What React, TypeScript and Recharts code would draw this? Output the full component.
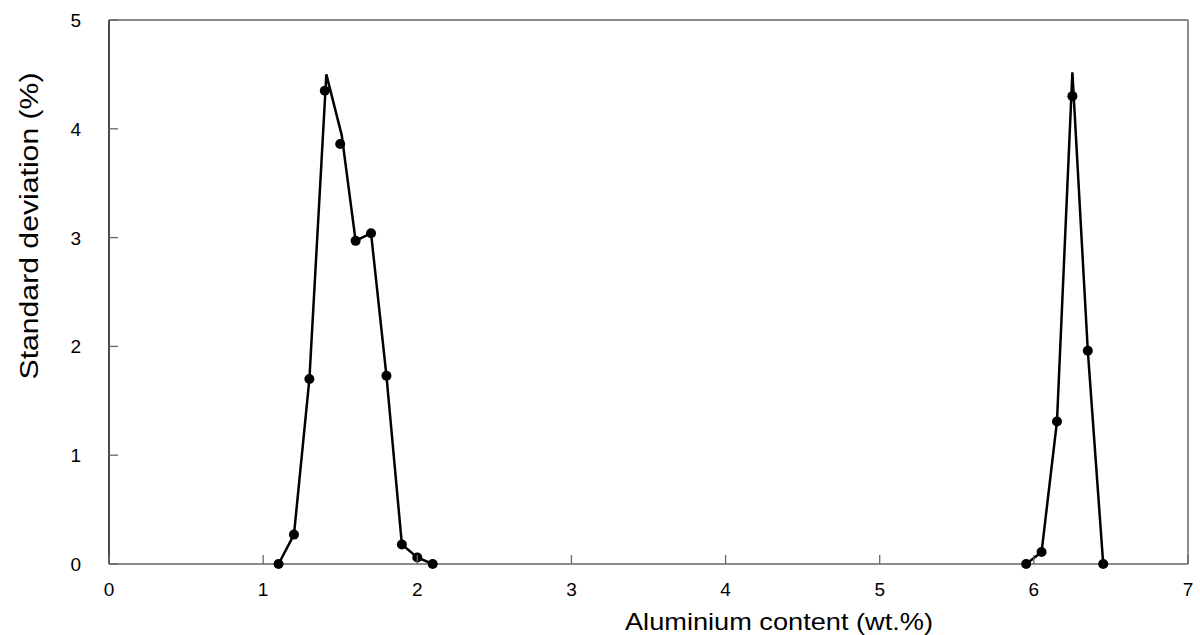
import React from 'react';
import { ComposedChart, Line, Scatter, XAxis, YAxis } from 'recharts';

// low-Al peak
const lowX = [1.1, 1.2, 1.3, 1.4, 1.5, 1.6, 1.7, 1.8, 1.9, 2.0, 2.1];
const lowLine = [0, 0.27, 1.7, 4.5, 3.94, 2.97, 3.04, 1.73, 0.18, 0.06, 0];
const lowPoints = [0, 0.27, 1.7, 4.35, 3.86, 2.97, 3.04, 1.73, 0.18, 0.06, 0];
const lowLineX = [1.1, 1.2, 1.3, 1.41, 1.51, 1.6, 1.7, 1.8, 1.9, 2.0, 2.1];

// high-Al peak
const highX = [5.95, 6.05, 6.15, 6.25, 6.35, 6.45];
const highLine = [0, 0.11, 1.31, 4.52, 1.96, 0];
const highPoints = [0, 0.11, 1.31, 4.3, 1.96, 0];

const xTicks = [0, 1, 2, 3, 4, 5, 6, 7];
const yTicks = [0, 1, 2, 3, 4, 5];

const FONT = '"Liberation Sans", Arial, sans-serif';
const LEFT = 109;
const RIGHT = 1188;
const TOP = 20;
const BOTTOM = 564;
const TICK_LEN = 9;
const FRAME = '#666';

const toPts = (xs: number[], ys: number[]) => xs.map((x, i) => ({ x, y: ys[i] }));

const lowLineData = toPts(lowLineX, lowLine);
const lowPointData = toPts(lowX, lowPoints);
const highLineData = toPts(highX, highLine);
const highPointData = toPts(highX, highPoints);

const BottomTick = (props: any) => {
  const { x, payload } = props;
  return (
    <g>
      <line x1={x} x2={x} y1={BOTTOM} y2={BOTTOM - TICK_LEN} stroke={FRAME} strokeWidth={1.3} />
      <text x={x} y={596} textAnchor="middle" fontSize={19} fontFamily={FONT} fill="#000">
        {payload.value}
      </text>
    </g>
  );
};

const TopTick = (props: any) => (
  <line x1={props.x} x2={props.x} y1={TOP} y2={TOP + TICK_LEN} stroke={FRAME} strokeWidth={1.3} />
);

const LeftTick = (props: any) => {
  const { y, payload } = props;
  return (
    <g>
      <line x1={LEFT} x2={LEFT + TICK_LEN} y1={y} y2={y} stroke={FRAME} strokeWidth={1.3} />
      <text x={81} y={y + 7} textAnchor="end" fontSize={19} fontFamily={FONT} fill="#000">
        {payload.value}
      </text>
    </g>
  );
};

const RightTick = (props: any) => (
  <line x1={RIGHT} x2={RIGHT - TICK_LEN} y1={props.y} y2={props.y} stroke={FRAME} strokeWidth={1.3} />
);

const XTitle = () => (
  <text
    x={779}
    y={630}
    textAnchor="middle"
    fontSize={24}
    fontFamily={FONT}
    fill="#000"
    textLength={308}
    lengthAdjust="spacingAndGlyphs"
  >
    Aluminium content (wt.%)
  </text>
);

const YTitle = () => (
  <text
    x={38}
    y={226}
    transform="rotate(-90, 38, 226)"
    textAnchor="middle"
    fontSize={25}
    fontFamily={FONT}
    fill="#000"
    textLength={307}
    lengthAdjust="spacingAndGlyphs"
  >
    Standard deviation (%)
  </text>
);

const dot = (props: any) => <circle cx={props.cx} cy={props.cy} r={5} fill="#000" />;

export default function App() {
  return (
    <div style={{ position: 'absolute', left: 0, top: 0, background: '#fff' }}>
      <ComposedChart width={1200} height={635} margin={{ top: 0, right: 0, bottom: 0, left: 0 }}>
        <XAxis
          xAxisId="b"
          dataKey="x"
          type="number"
          domain={[0, 7]}
          ticks={xTicks}
          height={71}
          axisLine={{ stroke: FRAME, strokeWidth: 1.5 }}
          tickLine={false}
          tick={<BottomTick />}
          label={<XTitle />}
        />
        <XAxis
          xAxisId="t"
          dataKey="x"
          orientation="top"
          type="number"
          domain={[0, 7]}
          ticks={xTicks}
          height={20}
          axisLine={{ stroke: FRAME, strokeWidth: 1.5 }}
          tickLine={false}
          tick={<TopTick />}
        />
        <YAxis
          yAxisId="l"
          dataKey="y"
          type="number"
          domain={[0, 5]}
          ticks={yTicks}
          width={109}
          axisLine={{ stroke: '#111', strokeWidth: 1.5 }}
          tickLine={false}
          tick={<LeftTick />}
          label={<YTitle />}
        />
        <YAxis
          yAxisId="r"
          dataKey="y"
          orientation="right"
          type="number"
          domain={[0, 5]}
          ticks={yTicks}
          width={12}
          axisLine={{ stroke: FRAME, strokeWidth: 1.5 }}
          tickLine={false}
          tick={<RightTick />}
        />
        <Line
          xAxisId="b"
          yAxisId="l"
          data={lowLineData}
          dataKey="y"
          stroke="#000"
          strokeWidth={2.5}
          dot={false}
          activeDot={false}
          isAnimationActive={false}
        />
        <Line
          xAxisId="b"
          yAxisId="l"
          data={highLineData}
          dataKey="y"
          stroke="#000"
          strokeWidth={2.5}
          dot={false}
          activeDot={false}
          isAnimationActive={false}
        />
        <Scatter xAxisId="b" yAxisId="l" data={lowPointData} dataKey="y" shape={dot} isAnimationActive={false} />
        <Scatter xAxisId="b" yAxisId="l" data={highPointData} dataKey="y" shape={dot} isAnimationActive={false} />
      </ComposedChart>
    </div>
  );
}
